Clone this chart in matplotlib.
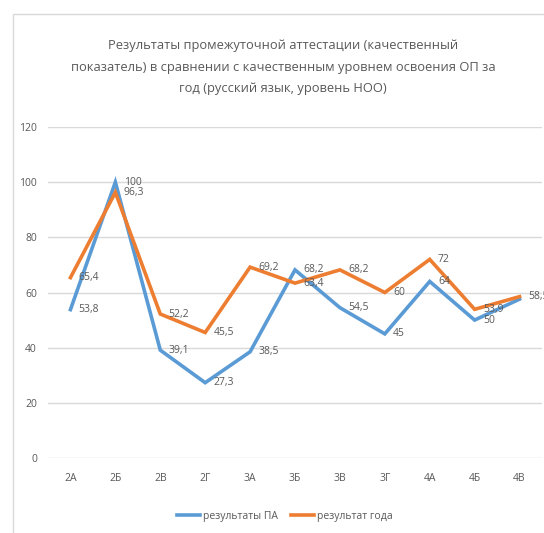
import matplotlib
matplotlib.use("Agg")
import matplotlib.pyplot as plt
from matplotlib.patches import Rectangle

categories = ["2А", "2Б", "2В", "2Г", "3А", "3Б", "3В", "3Г", "4А", "4Б", "4В"]
pa_results = [53.8, 100, 39.1, 27.3, 38.5, 68.2, 54.5, 45, 64, 50, 57.6]
year_results = [65.4, 96.3, 52.2, 45.5, 69.2, 63.4, 68.2, 60, 72, 53.9, 58.5]
pa_labels = ["53,8", "100", "39,1", "27,3", "38,5", "68,2", "54,5", "45", "64", "50", ""]
year_labels = ["65,4", "96,3", "52,2", "45,5", "69,2", "63,4", "68,2", "60", "72", "53,9", "58,5"]
yticks = [0, 20, 40, 60, 80, 100, 120]
title = ("Результаты промежуточной аттестации (качественный\n"
         "показатель) в сравнении с качественным уровнем освоения ОП за\n"
         "год (русский язык, уровень НОО)")

plt.rcParams['font.family'] = ['Open Sans', 'DejaVu Sans']
grey = "#595959"
blue = "#5b9bd5"
orange = "#ed7d31"

fig = plt.figure(figsize=(5.44, 5.33), dpi=100)
fig.patches.append(Rectangle((13/544, -0.01), 1.0, 1 - 14/533 + 0.01,
                             transform=fig.transFigure, fill=False,
                             edgecolor="#d9d9d9", linewidth=1))
ax = fig.add_axes([48/544, 1 - 458/533, (542 - 48)/544, (458 - 127)/533])
x = list(range(len(categories)))
ax.plot(x, pa_results, color=blue, lw=2.6, label="результаты ПА", solid_joinstyle="miter", zorder=3)
ax.plot(x, year_results, color=orange, lw=2.6, label="результат года", solid_joinstyle="miter", zorder=3)

for xi, v, t in zip(x, pa_results, pa_labels):
    if t:
        ax.annotate(t, (xi, v), xytext=(6, 0), textcoords="offset points",
                    ha="left", va="center", fontsize=7.5, color=grey)
for xi, v, t in zip(x, year_results, year_labels):
    if t:
        ax.annotate(t, (xi, v), xytext=(6, 0), textcoords="offset points",
                    ha="left", va="center", fontsize=7.5, color=grey,
                    annotation_clip=False)

ax.set_xlim(-0.5, len(categories) - 0.5)
ax.set_ylim(0, 120)
ax.set_yticks(yticks)
ax.set_yticklabels([str(t) for t in yticks])
ax.set_xticks(x)
ax.set_xticklabels(categories)
ax.grid(axis="y", color="#d9d9d9", lw=1)
ax.set_axisbelow(True)
for s in ax.spines.values():
    s.set_visible(False)
ax.tick_params(axis="both", length=0, colors=grey, labelsize=7.5)
ax.tick_params(axis="x", pad=11)
ax.tick_params(axis="y", pad=8)

fig.text(283/544, 1 - 67/533, title, ha="center", va="center", fontsize=9.3,
         color=grey, linespacing=1.85)
fig.legend(loc="center", bbox_to_anchor=(285/544, 1 - 516/533), ncol=2, frameon=False,
           fontsize=7.5, labelcolor=grey, handlelength=2.2, columnspacing=1.2,
           handletextpad=0.3)
fig.savefig("out.png", dpi=100, facecolor="white")
